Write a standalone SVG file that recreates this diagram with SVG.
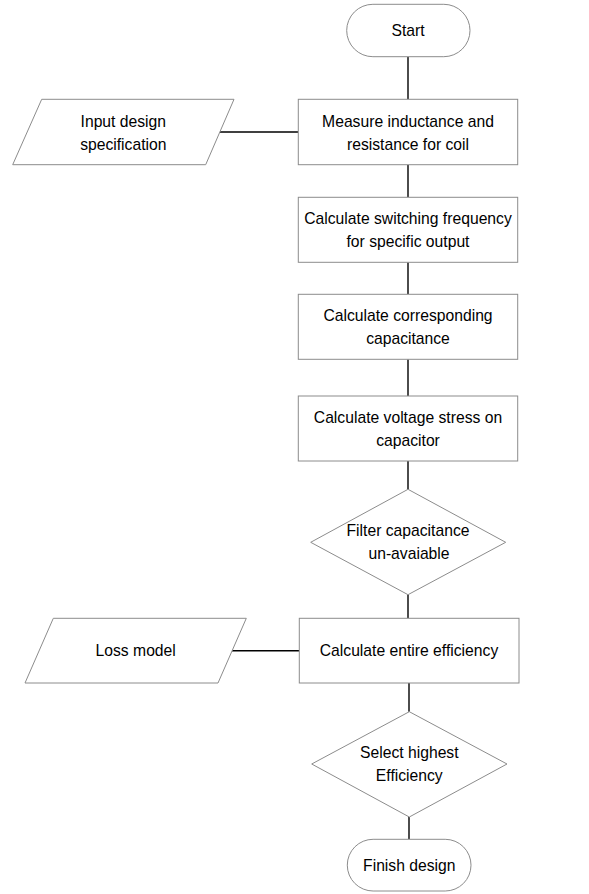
<svg xmlns="http://www.w3.org/2000/svg" width="589" height="894" viewBox="0 0 589 894">
<style>
.s{fill:#fff;stroke:#8c8c8c;stroke-width:1}
.c{stroke:#000;stroke-width:1.4;fill:none}
text{font-family:"Liberation Sans",Arial,sans-serif;font-size:15.7px;fill:#000;text-anchor:middle;dominant-baseline:central}
</style>
<rect width="589" height="894" fill="#fff"/>
<g id="connectors">
<line class="c" x1="408" y1="56.7" x2="408" y2="99.3"/>
<line class="c" x1="408" y1="164.7" x2="408" y2="197.3"/>
<line class="c" x1="408" y1="262.3" x2="408" y2="294.3"/>
<line class="c" x1="408" y1="359.3" x2="408" y2="396"/>
<line class="c" x1="408" y1="461" x2="408" y2="489.3"/>
<line class="c" x1="408" y1="594.7" x2="408" y2="618.3"/>
<line class="c" x1="409" y1="683" x2="409" y2="711.7"/>
<line class="c" x1="409" y1="817" x2="409" y2="839.3"/>
<line class="c" x1="220" y1="132" x2="298.3" y2="132"/>
<line class="c" x1="232" y1="650.7" x2="299.3" y2="650.7"/>
</g>
<g id="start">
<rect class="s" x="346.7" y="4.3" width="123.3" height="52.4" rx="26.2"/>
<text x="408" y="30">Start</text>
</g>
<g id="input">
<polygon class="s" points="41.7,99.3 234,99.3 205.7,164.7 12.7,164.7"/>
<text x="123.3" y="121">Input design</text>
<text x="123.3" y="144">specification</text>
</g>
<g id="measure">
<rect class="s" x="298.3" y="99.3" width="219.4" height="65.4"/>
<text x="408" y="121">Measure inductance and</text>
<text x="408" y="144">resistance for coil</text>
</g>
<g id="switching">
<rect class="s" x="298.3" y="197.3" width="219.4" height="65"/>
<text x="408" y="218">Calculate switching frequency</text>
<text x="408" y="241">for specific output</text>
</g>
<g id="capacitance">
<rect class="s" x="298.3" y="294.3" width="219.4" height="65"/>
<text x="408" y="315.7">Calculate corresponding</text>
<text x="408" y="338.3">capacitance</text>
</g>
<g id="voltage">
<rect class="s" x="298.3" y="396" width="219.4" height="65"/>
<text x="408" y="417">Calculate voltage stress on</text>
<text x="408" y="440">capacitor</text>
</g>
<g id="filter">
<polygon class="s" points="408,489.3 505.7,542.3 408,594.7 310.7,542.3"/>
<text x="408" y="530.7">Filter capacitance</text>
<text x="409" y="553.3">un-avaiable</text>
</g>
<g id="loss">
<polygon class="s" points="53.3,618.3 246.3,618.3 218,683 25,683"/>
<text x="135.7" y="650.7">Loss model</text>
</g>
<g id="efficiency">
<rect class="s" x="299.3" y="618.3" width="219.7" height="64.7"/>
<text x="409" y="650.7">Calculate entire efficiency</text>
</g>
<g id="select">
<polygon class="s" points="409.3,711.7 507,764 409.3,817 311.7,764"/>
<text x="409.3" y="752.7">Select highest</text>
<text x="409.3" y="775">Efficiency</text>
</g>
<g id="finish">
<rect class="s" x="347.3" y="839.3" width="123.7" height="51.7" rx="25.8"/>
<text x="409.3" y="865.7">Finish design</text>
</g>
</svg>
